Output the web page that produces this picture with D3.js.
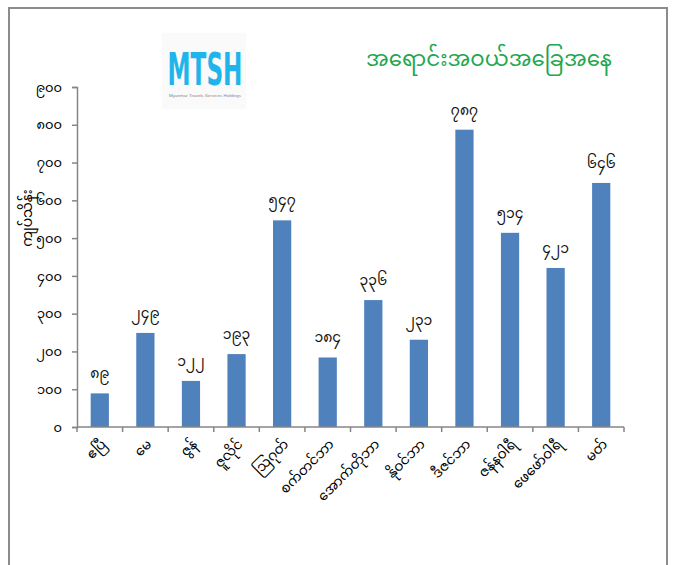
<!DOCTYPE html>
<html>
<head>
<meta charset="utf-8">
<script src="https://cdn.jsdelivr.net/npm/d3@7"></script>
<style>
  html, body { margin: 0; padding: 0; background: #fff; }
  svg { display: block; }
  .mm { font-family: "Noto Sans Myanmar", "Padauk", "Myanmar Text", "Noto Sans", sans-serif; }
</style>
</head>
<body>
<svg id="chart" width="678" height="565"></svg>
<script>
// ---- data ----
const categories = ["ဧပြီ", "မေ", "ဇွန်", "ဇူလိုင်", "ဩဂုတ်", "စက်တင်ဘာ", "အောက်တိုဘာ", "နိုဝင်ဘာ", "ဒီဇင်ဘာ", "ဇန်နဝါရီ", "ဖေဖော်ဝါရီ", "မတ်"];
const values = [89, 249, 122, 193, 547, 184, 336, 231, 787, 514, 421, 646];
const yTicks = [0, 100, 200, 300, 400, 500, 600, 700, 800, 900];
const title = "အရောင်းအဝယ်အခြေအနေ";
const yTitle = "ကျပ်သိန်း";
const logoText = "MTSH";

const mmDigits = ["၀","၁","၂","၃","၄","၅","၆","၇","၈","၉"];
const toMM = n => String(n).replace(/[0-9]/g, d => mmDigits[+d]);

const svg = d3.select("#chart");

// outer frame
svg.append("rect")
  .attr("x", 9).attr("y", 8).attr("width", 658).attr("height", 570)
  .attr("fill", "#fff").attr("stroke", "#8c8c8c").attr("stroke-width", 2);

const x = d3.scaleBand().domain(categories).range([77, 624]).paddingInner(0.6).paddingOuter(0.3);
const y = d3.scaleLinear().domain([0, 900]).range([427, 87]);

// bars
svg.append("g").selectAll("rect").data(values).join("rect")
  .attr("x", (d, i) => x(categories[i]))
  .attr("y", d => y(d))
  .attr("width", x.bandwidth())
  .attr("height", d => y(0) - y(d))
  .attr("fill", "#4f81bd");

// value labels
svg.append("g").selectAll("text").data(values).join("text")
  .attr("class", "mm")
  .attr("x", (d, i) => x(categories[i]) + x.bandwidth() / 2)
  .attr("y", d => y(d) - 15)
  .attr("text-anchor", "middle")
  .attr("font-size", 14)
  .attr("fill", "#111")
  .text(d => toMM(d));

// y axis
const yAxis = d3.axisLeft(y).tickValues(yTicks).tickSize(5).tickPadding(10).tickFormat(toMM);
const gy = svg.append("g").attr("transform", "translate(77,0)").call(yAxis);
gy.select(".domain").attr("stroke", "#868686").attr("stroke-width", 1.5);
gy.selectAll(".tick line").attr("stroke", "#868686").attr("stroke-width", 1.5);
gy.selectAll(".tick text").attr("class", "mm").attr("font-size", 13).attr("fill", "#000");

// x axis: ticks at band boundaries
const edges = d3.range(categories.length + 1);
const gx = svg.append("g");
gx.append("line").attr("x1", 77).attr("x2", 624).attr("y1", 427).attr("y2", 427)
  .attr("stroke", "#868686").attr("stroke-width", 1.5);
gx.selectAll("line.tk").data(edges).join("line").attr("class", "tk")
  .attr("x1", i => 77 + i * x.step())
  .attr("x2", i => 77 + i * x.step())
  .attr("y1", 427).attr("y2", 432)
  .attr("stroke", "#868686").attr("stroke-width", 1.5);

// category labels (rotated)
svg.append("g").selectAll("text").data(categories).join("text")
  .attr("class", "mm")
  .attr("transform", d => `translate(${x(d) + x.bandwidth() / 2 + 7},${445}) rotate(-45)`)
  .attr("text-anchor", "end")
  .attr("font-size", 13.5)
  .attr("fill", "#000")
  .text(d => d);

// y title
svg.append("text").attr("class", "mm")
  .attr("transform", "translate(32,218) rotate(-90)")
  .attr("text-anchor", "middle")
  .attr("font-size", 14)
  .attr("fill", "#000")
  .text(yTitle);

// chart title
svg.append("text").attr("class", "mm")
  .attr("x", 489).attr("y", 66)
  .attr("text-anchor", "middle")
  .attr("font-size", 22)
  .attr("textLength", 246).attr("lengthAdjust", "spacingAndGlyphs")
  .attr("fill", "#1fa84f")
  .text(title);

// logo
const logo = svg.append("g");
logo.append("rect").attr("x", 162).attr("y", 33).attr("width", 84).attr("height", 76).attr("fill", "#fafafa");
logo.append("text")
  .attr("transform", "translate(205,85) scale(1,1.4)")
  .attr("text-anchor", "middle")
  .attr("font-family", "'Liberation Sans Narrow', 'DejaVu Sans Condensed', Arial, sans-serif")
  .attr("font-weight", "bold")
  .attr("font-size", 32)
  .attr("textLength", 75).attr("lengthAdjust", "spacingAndGlyphs")
  .attr("fill", "#1fb5ea")
  .text(logoText);
logo.append("text")
  .attr("x", 205).attr("y", 97)
  .attr("text-anchor", "middle")
  .attr("font-family", "Arial, sans-serif")
  .attr("font-size", 3)
  .attr("textLength", 72).attr("lengthAdjust", "spacingAndGlyphs")
  .attr("fill", "#888")
  .text("Myanmar Travels Services Holdings");
</script>
</body>
</html>
